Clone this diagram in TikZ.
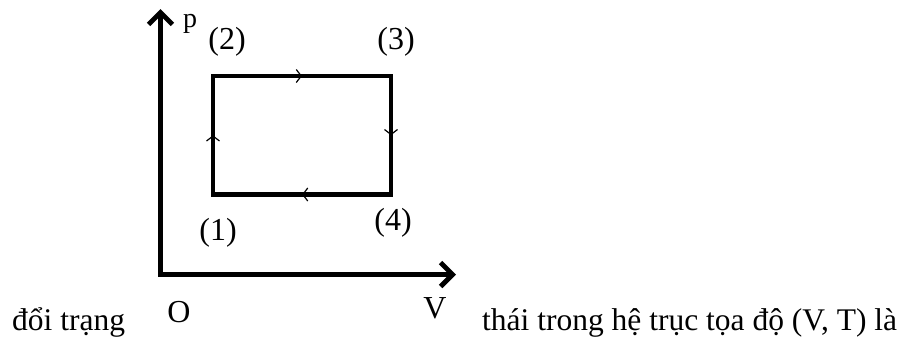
\documentclass[tikz,border=0pt]{standalone}
\usepackage{fontspec}
\setmainfont{Liberation Serif}
\usetikzlibrary{arrows.meta,decorations.markings}
\begin{document}
\begin{tikzpicture}[x=1pt,y=-1pt,
  axis/.style={line width=4.8pt,-{Straight Barb[length=12pt,width=24pt,line width=4.8pt]}},
  cycle/.style={line width=4.2pt,line cap=rect,postaction={decorate},
    decoration={markings,mark=at position 0.5 with {\arrow{Straight Barb[length=5pt,width=13pt,line width=1.2pt]}}}},
  lab/.style={inner sep=0pt,font=\fontsize{32}{32}\selectfont},
  txt/.style={inner sep=0pt,anchor=base west,font=\fontsize{31.5}{36}\selectfont}]
\useasboundingbox (0,0) rectangle (912,349);
\coordinate (o) at (160.5,274.5);
\coordinate (ytip) at (160.5,9);
\coordinate (xtip) at (456,274.5);
\coordinate (c1) at (213,194.5);
\coordinate (c2) at (213,76);
\coordinate (c3) at (391,76);
\coordinate (c4) at (391,194.5);
\draw[axis] ([yshift=2.4pt]o) -- (ytip);
\draw[axis] ([xshift=-2.4pt]o) -- (xtip);
\draw[cycle] (c1) -- (c2);
\draw[cycle] (c2) -- (c3);
\draw[cycle] (c3) -- (c4);
\draw[cycle] (c4) -- (c1);
\node[lab,anchor=base] (p) at (190,27.5) {\fontsize{28}{28}\selectfont p};
\node[lab] (l2) at (227,41.5) {(2)};
\node[lab] (l3) at (396,41.5) {(3)};
\node[lab] (l1) at (218,233) {(1)};
\node[lab] (l4) at (393,223) {(4)};
\node[lab] (lo) at (179,312.5) {O};
\node[lab] (lv) at (435,308.5) {V};
\node[txt] (t1) at (12,330) {đổi trạng};
\node[txt] (t2) at (482,330) {thái trong hệ trục tọa độ (V, T) là};
\end{tikzpicture}
\end{document}
